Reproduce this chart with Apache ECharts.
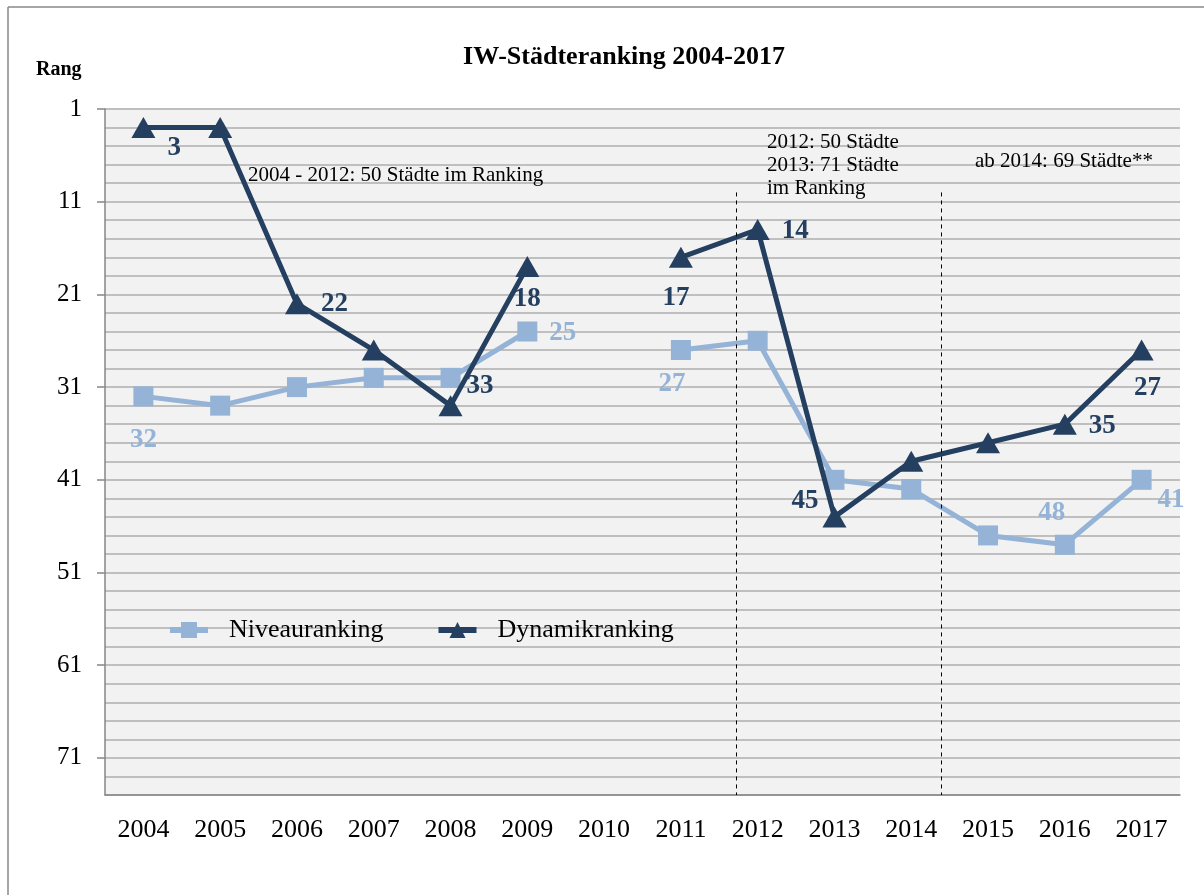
<!DOCTYPE html>
<html>
<head>
<meta charset="utf-8">
<script src="https://cdn.jsdelivr.net/npm/echarts@6/dist/echarts.min.js"></script>
<style>
  html, body { margin: 0; padding: 0; background: #fff; }
  #chart { width: 1204px; height: 895px; }
</style>
</head>
<body>
<div id="chart"></div>
<script>
  // Jahre und Ränge (null = kein Ranking 2010)
  var years = ['2004', '2005', '2006', '2007', '2008', '2009', '2010', '2011', '2012', '2013', '2014', '2015', '2016', '2017']
  var niveau = [32, 33, 31, 30, 30, 25, null, 27, 26, 41, 42, 47, 48, 41]
  var dynamik = [3, 3, 22, 27, 33, 18, null, 17, 14, 45, 39, 37, 35, 27]
  var yTicks = [1, 11, 21, 31, 41, 51, 61, 71]
  // Trennlinien zwischen den Ranking-Perioden (Position auf der Kategorieachse)
  var dividers = [7.72, 10.39]

  var light = '#95B3D7'
  var dark = '#243F60'
  var serif = '"Liberation Serif", "Times New Roman", serif'

  // welche Punkte beschriftet sind und wo
  var niveauLabels = {
    0: { position: 'bottom', distance: 20 },
    5: { position: 'right', distance: 12, offset: [0, 2] },
    7: { position: 'bottom', distance: 11, offset: [-9, 0] },
    12: { position: 'top', distance: 8, offset: [-13, 0] },
    13: { position: 'right', distance: 6, offset: [0, 20] }
  }
  var dynamikLabels = {
    0: { position: 'right', distance: 12, offset: [0, 20] },
    2: { position: 'right', distance: 12 },
    4: { position: 'right', distance: 4, offset: [0, -20] },
    5: { position: 'bottom', distance: 8 },
    7: { position: 'bottom', distance: 17, offset: [-5, 0] },
    8: { position: 'right', distance: 12, offset: [0, 2] },
    9: { position: 'left', distance: 4, offset: [0, -16] },
    12: { position: 'right', distance: 12, offset: [0, 2] },
    13: { position: 'bottom', distance: 14, offset: [6, 0] }
  }

  function buildData(values, labels, color) {
    return values.map(function (v, i) {
      var l = labels[i]
      if (!l) return v
      return {
        value: v,
        label: Object.assign({
          show: true,
          color: color,
          fontFamily: serif,
          fontWeight: 'bold',
          fontSize: 27
        }, l)
      }
    })
  }

  var chart = echarts.init(document.getElementById('chart'))
  var option = {
    backgroundColor: '#fff',
    animation: false,
    title: {
      text: 'IW-Städteranking 2004-2017',
      left: 619,
      top: 39,
      textAlign: 'center',
      textStyle: { fontFamily: serif, fontSize: 26, fontWeight: 'bold', color: '#000' }
    },
    graphic: [
      { type: 'line', shape: { x1: 8, y1: 7, x2: 1220, y2: 7 }, style: { stroke: '#888', lineWidth: 1.5 } },
      { type: 'line', shape: { x1: 8, y1: 7, x2: 8, y2: 900 }, style: { stroke: '#888', lineWidth: 1.5 } },
      { type: 'text', left: 36, top: 60, style: { text: 'Rang', font: 'bold 20px ' + serif, fill: '#000' } },
      { type: 'text', left: 248, top: 165, z: 10, style: { text: '2004 - 2012: 50 Städte im Ranking', font: '21px ' + serif, fill: '#000' } },
      { type: 'text', left: 767, top: 131, z: 10, style: { text: '2012: 50 Städte\n2013: 71 Städte\nim Ranking', font: '21px ' + serif, lineHeight: 23, fill: '#000' } },
      { type: 'text', left: 975, top: 151, z: 10, style: { text: 'ab 2014: 69 Städte**', font: '21px ' + serif, fill: '#000' } }
    ],
    legend: {
      left: 162,
      top: 612,
      itemWidth: 38,
      itemHeight: 20,
      itemGap: 52,
      lineStyle: { width: 6 },
      textStyle: { fontFamily: serif, fontSize: 26, color: '#000', padding: [0, 0, 0, 16] },
      data: ['Niveauranking', 'Dynamikranking']
    },
    grid: {
      left: 105,
      right: 24,
      top: 109,
      bottom: 100,
      show: true,
      backgroundColor: '#F2F2F2',
      borderWidth: 0
    },
    xAxis: [{
      type: 'category',
      data: years,
      boundaryGap: true,
      axisLine: { lineStyle: { color: '#868686', width: 1.5 } },
      axisTick: { inside: true, length: 8, lineStyle: { color: '#868686', width: 1.5 } },
      axisLabel: { fontFamily: serif, fontSize: 26, color: '#000', margin: 22, interval: 0 },
      splitLine: { show: false }
    }, {
      type: 'value',
      min: -0.5,
      max: years.length - 0.5,
      show: false
    }],
    yAxis: [{
      // Raster alle 2 Ränge, Beschriftung nur an yTicks
      type: 'value',
      inverse: true,
      min: 1,
      max: 75,
      interval: 2,
      axisLine: { show: false, onZero: false },
      axisTick: { show: false },
      axisLabel: { customValues: yTicks, fontFamily: serif, fontSize: 25, color: '#000', margin: 23 },
      splitLine: { show: true, lineStyle: { color: '#BFBFBF', width: 2 } }
    }, {
      type: 'value',
      inverse: true,
      position: 'left',
      min: 1,
      max: 75,
      interval: 2,
      axisLine: { show: true, onZero: false, lineStyle: { color: '#868686', width: 1.5 } },
      axisTick: { show: true, customValues: yTicks, length: 8, lineStyle: { color: '#868686', width: 1.5 } },
      axisLabel: { show: false },
      splitLine: { show: false }
    }],
    series: [{
      name: 'Niveauranking',
      type: 'line',
      data: buildData(niveau, niveauLabels, light),
      symbol: 'rect',
      symbolSize: 20,
      lineStyle: { color: light, width: 5 },
      itemStyle: { color: light },
      connectNulls: false,
      z: 3
    }, {
      name: 'Dynamikranking',
      type: 'line',
      data: buildData(dynamik, dynamikLabels, dark),
      symbol: 'triangle',
      symbolSize: [24, 21],
      lineStyle: { color: dark, width: 5 },
      itemStyle: { color: dark },
      connectNulls: false,
      z: 4
    }, {
      name: 'Trennlinien',
      type: 'line',
      xAxisIndex: 1,
      data: [],
      silent: true,
      markLine: {
        symbol: 'none',
        label: { show: false },
        lineStyle: { color: '#000', type: [4, 4], width: 1 },
        data: dividers.map(function (d) {
          return [{ coord: [d, 10] }, { coord: [d, 75] }]
        })
      }
    }]
  }
  chart.setOption(option)
</script>
</body>
</html>
